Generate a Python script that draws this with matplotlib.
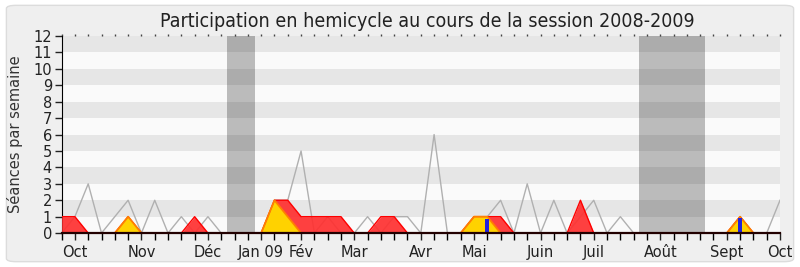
import matplotlib.pyplot as plt
from matplotlib.patches import FancyBboxPatch
from matplotlib import font_manager
import numpy as np

# weekly data, week 0 = first week of the session (October 2008)
weeks = np.arange(0, 55)

# median of deputies (gray line)
median_seances = [0, 1, 3, 0, 1, 2, 0, 2, 0, 1, 0, 1, 0, 0, 0,
                  0, 2, 2, 5, 0, 1, 0, 0, 1, 0, 1, 1, 0, 6, 0,
                  0, 1, 1, 2, 0, 3, 0, 2, 0, 1, 2, 0, 1, 0, 0,
                  0, 0, 0, 0, 0, 0, 1, 0, 0, 2]

# presences (red)
presences = [1, 1, 0, 0, 0, 1, 0, 0, 0, 0, 1, 0, 0, 0, 0,
             0, 2, 2, 1, 1, 1, 1, 0, 0, 1, 1, 0, 0, 0, 0,
             0, 1, 1, 1, 0, 0, 0, 0, 0, 2, 0, 0, 0, 0, 0,
             0, 0, 0, 0, 0, 0, 1, 0, 0, 0]

# participations (yellow)
participations = [0, 0, 0, 0, 0, 1, 0, 0, 0, 0, 0, 0, 0, 0, 0,
                  0, 2, 1, 0, 0, 0, 0, 0, 0, 0, 0, 0, 0, 0, 0,
                  0, 1, 1, 0, 0, 0, 0, 0, 0, 0, 0, 0, 0, 0, 0,
                  0, 0, 0, 0, 0, 0, 1, 0, 0, 0]

# long interventions (green)
interventions = [0, 0, 0, 0, 0, 0.1, 0, 0, 0, 0, 0, 0, 0, 0, 0,
                 0, 0.1, 0.1, 0, 0, 0, 0, 0, 0, 0, 0, 0, 0, 0, 0,
                 0, 0.1, 0, 0, 0, 0, 0, 0, 0, 0, 0, 0, 0, 0, 0,
                 0, 0, 0, 0, 0, 0, 0, 0, 0, 0]

# questions (blue bars)
question_weeks = [32, 51]
questions = [0.85, 0.9]

# holidays (gray bands)
vacances = [(12.4, 14.5), (43.4, 48.4)]

month_pos = [1, 6, 11, 15, 18, 22, 27, 31, 36, 40, 45, 50, 54]
month_labels = ['Oct', 'Nov', 'Déc', 'Jan 09', 'Fév', 'Mar', 'Avr',
                'Mai', 'Juin', 'Juil', 'Août', 'Sept', 'Oct']

# title font: condensed DejaVu if available
has_condensed = any('Condensed' in f.name or f.stretch == 'condensed'
                    for f in font_manager.fontManager.ttflist
                    if f.name.startswith('DejaVu Sans'))
title_size = 14 if has_condensed else 12.6

fig = plt.figure(figsize=(8, 2.67), dpi=100, facecolor='white')
frame = FancyBboxPatch((0.008, 0.02), 0.984, 0.96,
                       boxstyle='round,pad=0,rounding_size=0.012',
                       transform=fig.transFigure,
                       facecolor='#efefef', edgecolor='#dcdcdc', lw=1, zorder=-10)
fig.patches.append(frame)
ax = fig.add_axes([0.077, 0.127, 0.898, 0.738])
ax.set_facecolor('#fafafa')

# alternating background stripes
for y in range(1, 12, 2):
    ax.axhspan(y, y + 1, color='#e6e6e6', lw=0, zorder=0)
for a, b in vacances:
    ax.axvspan(a, b, color='black', alpha=0.25, lw=0, zorder=1)

ax.plot(weeks, median_seances, color='#b0b0b0', lw=1, zorder=2)
ax.fill_between(weeks, presences, color='#ff3030', alpha=0.92, lw=0, zorder=3)
ax.plot(weeks, presences, color='#ff0000', lw=1, zorder=3)
ax.fill_between(weeks, participations, color='#ffd200', lw=0, zorder=4)
ax.plot(weeks, participations, color='#ff8000', lw=1.3, zorder=4)
ax.fill_between(weeks, interventions, color='#33dd33', lw=0, zorder=5)
ax.bar(question_weeks, questions, width=0.3, color='#2222dd', zorder=6)

ax.set_xlim(0, 54)
ax.set_ylim(0, 12)
ax.set_yticks(range(0, 13))
ax.set_xticks(month_pos)
ax.set_xticklabels(month_labels)
ax.set_xticks(weeks, minor=True)
ax.tick_params(axis='both', labelsize=10.5, colors='#222222', length=5, width=1)
ax.tick_params(axis='x', which='minor', length=5, width=1, color='black')
ax.tick_params(axis='y', pad=2)

for s in ['top', 'right']:
    ax.spines[s].set_visible(False)
ax.spines['left'].set_color('black')
ax.spines['bottom'].set_color('#220000')
ax.spines['bottom'].set_linewidth(1.6)
ax.spines['bottom'].set_zorder(7)

top = ax.secondary_xaxis('top')
top.set_xticks(weeks)
top.tick_params(length=1.5, width=1, labeltop=False, color='#444444')
top.spines['top'].set_visible(False)

ax.set_ylabel('Séances par semaine', fontsize=10.5, color='#333333')
ax.yaxis.set_label_coords(-0.054, 0.5)
fig.text(0.534, 0.9, 'Participation en hemicycle au cours de la session 2008-2009',
         ha='center', va='baseline', fontsize=title_size, color='#222222',
         fontstretch='condensed')

plt.savefig('out.png', dpi=100, facecolor=fig.get_facecolor())
